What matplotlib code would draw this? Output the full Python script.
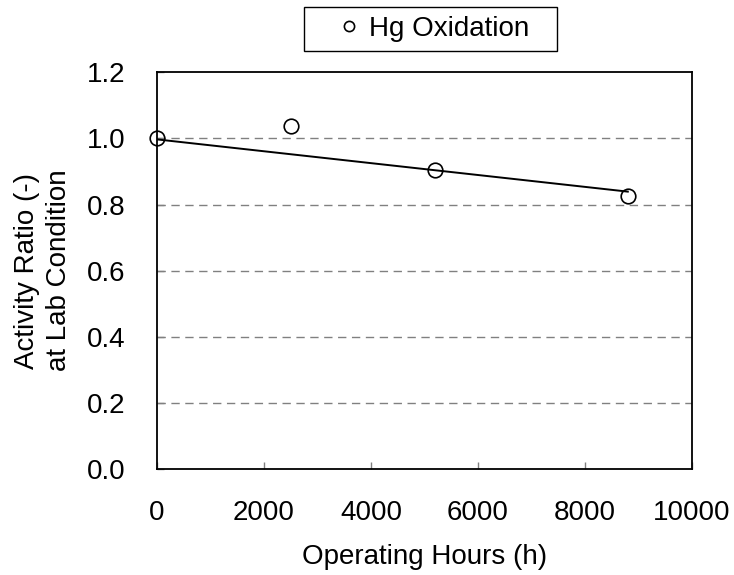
import matplotlib.pyplot as plt
from matplotlib.patches import Rectangle

plt.rcParams['font.family'] = ['Liberation Sans', 'DejaVu Sans']

# measured points
hours = [0, 2500, 5200, 8800]
ratio = [1.0, 1.037, 0.905, 0.825]

# trend line endpoints
trend_hours = [0, 8800]
trend_ratio = [0.997, 0.839]

xticks = [0, 2000, 4000, 6000, 8000, 10000]
yticks = [0.0, 0.2, 0.4, 0.6, 0.8, 1.0, 1.2]

fig = plt.figure(figsize=(7.34, 5.75), dpi=100)
ax = fig.add_axes([0.2139, 0.1843, 0.7289, 0.69])

ax.plot(trend_hours, trend_ratio, color='black', linewidth=1.4, zorder=3)
pts, = ax.plot(hours, ratio, linestyle='none', marker='o', markersize=10.5,
               markerfacecolor='none', markeredgecolor='black',
               markeredgewidth=1.2, clip_on=False, zorder=4)

ax.set_xlim(0, 10000)
ax.set_ylim(0, 1.2)
ax.set_xticks(xticks)
ax.set_yticks(yticks)
ax.set_yticklabels([f'{v:.1f}' for v in yticks])

# dashed gridlines
for v in yticks[1:-1]:
    ax.axhline(v, color='#808080', linestyle=(0, (6, 4)), linewidth=1.0, zorder=1)

for s in ax.spines.values():
    s.set_linewidth(1.3)
    s.set_color('black')

ax.tick_params(axis='both', direction='in', length=5, width=1, color='#808080',
               labelsize=20)
ax.tick_params(axis='x', pad=22)
ax.tick_params(axis='y', pad=23)

ax.set_xlabel('Operating Hours (h)', fontsize=20, va='center')
ax.xaxis.set_label_coords(0.5, -0.222)
ax.set_ylabel('Activity Ratio (-)\nat Lab Condition', fontsize=20, va='center',
              linespacing=1.3)
ax.yaxis.set_label_coords(-0.213, 0.5)

leg = fig.legend([pts], ['Hg Oxidation'], loc='center',
                 bbox_to_anchor=(433.5 / 734, 1 - 29 / 575),
                 fontsize=20, frameon=False, markerscale=0.7,
                 handlelength=0.8, handletextpad=0.35, borderpad=0,
                 borderaxespad=0)
fig.patches.append(Rectangle((304 / 734, 1 - 51 / 575), 253 / 734, 44 / 575,
                             transform=fig.transFigure, fill=False,
                             edgecolor='black', linewidth=1.0))

plt.savefig('out.png', dpi=100)
plt.close()
